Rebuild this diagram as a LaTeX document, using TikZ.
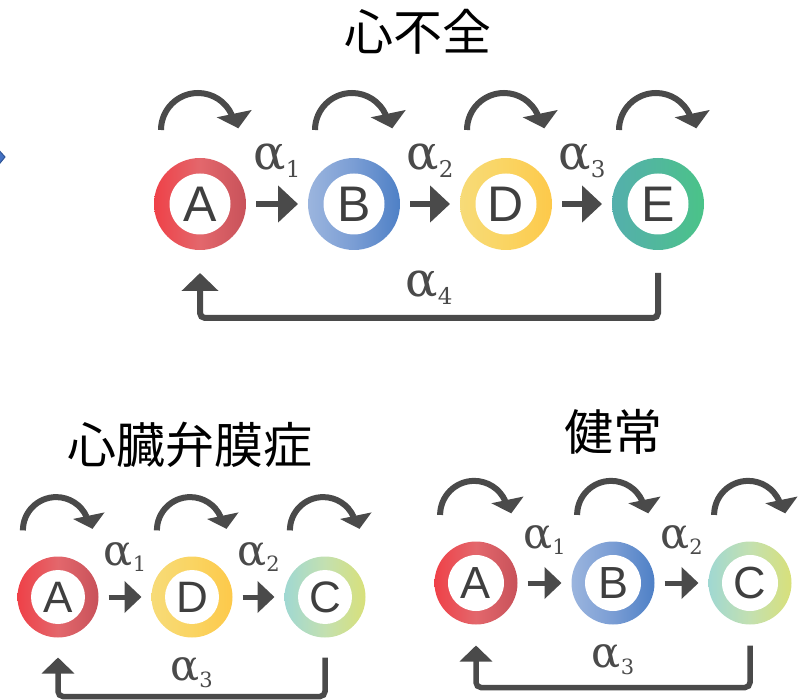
\documentclass[tikz,border=0pt]{standalone}
\usepackage{fontspec}
\setmainfont{Liberation Sans}
\newfontfamily\alfont{DejaVu Serif}
\newfontfamily\cjkfont{Noto Sans CJK JP}
\usetikzlibrary{arrows.meta}
\definecolor{dg}{HTML}{4A4A4A}
\definecolor{lett}{HTML}{3F3F3F}
\definecolor{chevfill}{HTML}{4472C4}
\definecolor{chevline}{HTML}{2F5597}
\definecolor{ra1}{HTML}{EF4148}\definecolor{ra2}{HTML}{C8525A}\definecolor{ra3}{HTML}{E3676C}
\definecolor{rb1}{HTML}{9BB5DE}\definecolor{rb2}{HTML}{4E80C6}\definecolor{rb3}{HTML}{7A9DD4}
\definecolor{rd1}{HTML}{F7DB78}\definecolor{rd2}{HTML}{FDC94A}\definecolor{rd3}{HTML}{FAD462}
\definecolor{re1}{HTML}{54AFAC}\definecolor{re2}{HTML}{4AC388}\definecolor{re3}{HTML}{51B89C}
\definecolor{rc1}{HTML}{A0D8D2}\definecolor{rc2}{HTML}{D8E07A}\definecolor{rc3}{HTML}{C3E0B0}
\newcommand\albl[2]{α\raisebox{-0.16em}{\fontsize{#2}{#2}\selectfont #1}}
\begin{document}
\begin{tikzpicture}[x=1pt,y=1pt,
  ring/.style 2 args={circle, inner sep=0pt, outer sep=0pt, minimum size=#1, text=lett,
    path picture={\fill[white] (path picture bounding box.center) circle[radius=#2];}},
  big/.style={ring={92pt}{30.5pt}, font=\fontsize{50}{50}\selectfont},
  smallL/.style={ring={81pt}{27pt}, font=\fontsize{44}{44}\selectfont},
  smallR/.style={ring={83pt}{28pt}, font=\fontsize{45}{45}\selectfont},
  cA/.style={left color=ra1, right color=ra2, middle color=ra3},
  cB/.style={left color=rb1, right color=rb2, middle color=rb3},
  cD/.style={left color=rd1, right color=rd2, middle color=rd3},
  cE/.style={left color=re1, right color=re2, middle color=re3},
  cC/.style={left color=rc1, right color=rc2, middle color=rc3},
  harrow/.style={draw=dg, line width=5.5pt, shorten <=10pt, shorten >=10pt,
    -{Triangle[width=36pt,length=20pt]}},
  harrowS/.style={draw=dg, line width=5pt, shorten <=10pt, shorten >=10pt,
    -{Triangle[width=31pt,length=17pt]}},
  fb/.style={draw=dg, line width=6pt, rounded corners=5pt,
    -{Triangle[width=36pt,length=18pt]}},
  fbS/.style={draw=dg, line width=5.5pt, rounded corners=5pt,
    -{Triangle[width=32pt,length=16pt]}},
  albig/.style={text=dg, font=\alfont\fontsize{48}{48}\selectfont, inner sep=0pt},
  alsmall/.style={text=dg, font=\alfont\fontsize{43}{43}\selectfont, inner sep=0pt},
  title/.style={font=\cjkfont\fontsize{49}{49}\selectfont, text=black, inner sep=0pt},
  selfloop/.pic={
    \draw[dg, line width=6pt] (-39,74) arc[start angle=180, end angle=24, radius=37];
    \fill[dg] (16.7,86.7) -- (51.7,94) -- (38.3,75.7) -- cycle;
  }
]
\useasboundingbox (0,0) rectangle (805,699);
% partial blue chevron at left edge
\filldraw[fill=chevfill, draw=chevline, line width=1pt] (-4,552) -- (5,542) -- (-4,531) -- cycle;

% ---------- top: heart failure ----------
\node[title] (t1) at (418,667) {心不全};
\node[big, cA] (A) at (200,495) {A};
\node[big, cB] (B) at (354,495) {B};
\node[big, cD] (D) at (506,495) {D};
\node[big, cE] (E) at (658,495) {E};
\foreach \n in {A,B,D,E} \pic at (\n) {selfloop};
\draw[harrow] (A) -- node[albig, anchor=base, yshift=34pt] {\albl{1}{23}} (B);
\draw[harrow] (B) -- node[albig, anchor=base, yshift=34pt] {\albl{2}{23}} (D);
\draw[harrow] (D) -- node[albig, anchor=base, yshift=34pt] {\albl{3}{23}} (E);
\draw[fb] ([yshift=-23pt]E.south) -- ++(0,-45)
  -| node[albig, pos=0.25, anchor=base, yshift=21pt] {\albl{4}{23}} ([yshift=-23pt]A.south);

% ---------- bottom left: valvular disease ----------
\node[title] (t2) at (190,254) {心臓弁膜症};
\node[smallL, cA] (LA) at (58,102) {A};
\node[smallL, cD] (LD) at (192,102) {D};
\node[smallL, cC] (LC) at (325,102) {C};
\foreach \n in {LA,LD,LC} \pic[scale=0.9] at (\n) {selfloop};
\draw[harrowS] (LA) -- node[alsmall, anchor=base, yshift=32pt] {\albl{1}{21}} (LD);
\draw[harrowS] (LD) -- node[alsmall, anchor=base, yshift=32pt] {\albl{2}{21}} (LC);
\draw[fbS] ([yshift=-20pt]LC.south) -- ++(0,-39)
  -| node[alsmall, pos=0.25, anchor=base, yshift=16pt] {\albl{3}{21}} ([yshift=-20pt]LA.south);

% ---------- bottom right: healthy ----------
\node[title] (t3) at (613,267) {健常};
\node[smallR, cA] (RA) at (476,116) {A};
\node[smallR, cB] (RB) at (613,116) {B};
\node[smallR, cC] (RC) at (750,116) {C};
\foreach \n in {RA,RB,RC} \pic[scale=0.92] at (\n) {selfloop};
\draw[harrowS] (RA) -- node[alsmall, anchor=base, yshift=35pt] {\albl{1}{21}} (RB);
\draw[harrowS] (RB) -- node[alsmall, anchor=base, yshift=35pt] {\albl{2}{21}} (RC);
\draw[fbS] ([yshift=-21pt]RC.south) -- ++(0,-42)
  -| node[alsmall, pos=0.25, anchor=base, yshift=20pt] {\albl{3}{21}} ([yshift=-21pt]RA.south);
\end{tikzpicture}
\end{document}
